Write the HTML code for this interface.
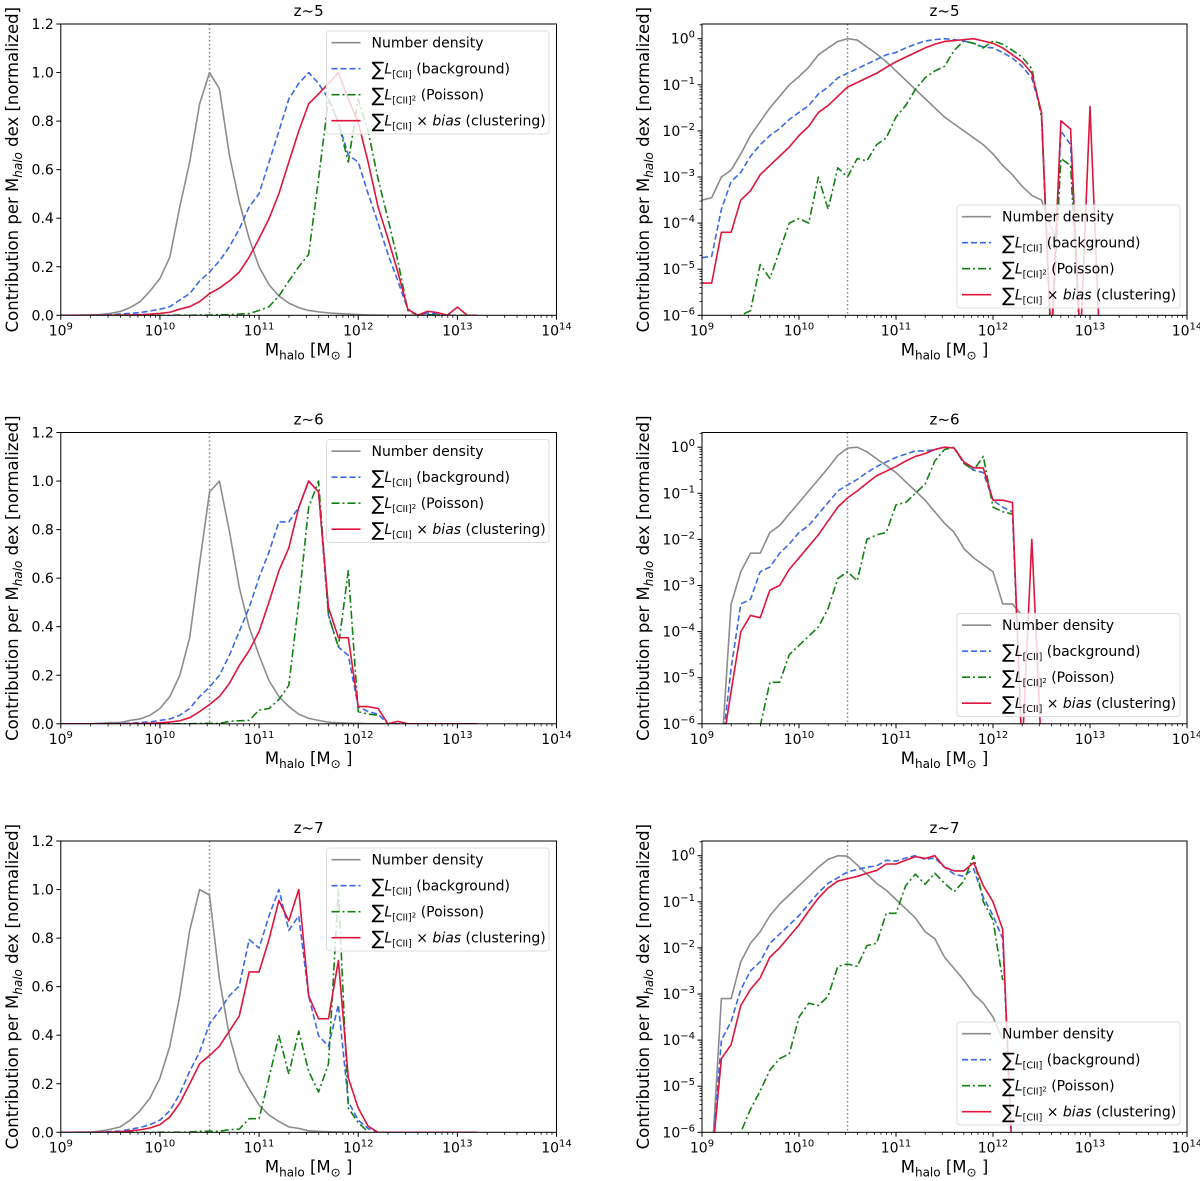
<!DOCTYPE html>
<html><head><meta charset="utf-8"><style>
body{margin:0;background:#fff}
svg{display:block;font-family:"DejaVu Sans","Liberation Sans",sans-serif}
</style></head><body>
<svg id="fig" width="1200" height="1181" viewBox="0 0 1200 1181" xmlns="http://www.w3.org/2000/svg"></svg>
<script>
const logM = [9.0,9.1,9.2,9.3,9.4,9.5,9.6,9.7,9.8,9.9,10.0,10.1,10.2,10.3,10.4,10.5,10.6,10.7,10.8,10.9,11.0,11.1,11.2,11.3,11.4,11.5,11.6,11.7,11.8,11.9,12.0,12.1,12.2,12.3,12.4,12.5,12.6,12.7,12.8,12.9,13.0,13.1,13.2];
const titles = ["z~5","z~6","z~7"];
const xTickExps = [9,10,11,12,13,14];
const linTicks = ["0.0","0.2","0.4","0.6","0.8","1.0","1.2"];
const logTickExps = [0,-1,-2,-3,-4,-5,-6];
const markerLogM = 10.5;
// log10 of normalized contributions (-9 = zero)
const nd5 = [-3.5,-3.45,-3.0,-2.85,-2.5,-2.1,-1.8,-1.5,-1.25,-1.0,-0.82,-0.62,-0.35,-0.2,-0.06,0,-0.03,-0.18,-0.33,-0.5,-0.7,-0.9,-1.1,-1.3,-1.5,-1.7,-1.85,-2.0,-2.15,-2.3,-2.5,-2.75,-2.95,-3.2,-3.4,-3.5,-4.1,-4.5,null,null,null,null,null];
const bg5 = [-4.75,-4.72,-3.7,-3.1,-2.9,-2.55,-2.3,-2.1,-1.95,-1.75,-1.6,-1.45,-1.2,-1.05,-0.85,-0.75,-0.65,-0.55,-0.45,-0.35,-0.3,-0.2,-0.12,-0.05,-0.02,0,-0.02,-0.05,-0.1,-0.18,-0.2,-0.3,-0.42,-0.6,-0.85,-1.6,-9,-2.0,-2.3,-9,-9,-9,-9];
const poi5 = [-9,-9,-9,-9,-6.0,-5.9,-4.9,-5.2,-4.6,-4.0,-3.9,-4.0,-3.0,-3.7,-2.8,-3.0,-2.6,-2.65,-2.3,-2.15,-1.7,-1.45,-1.1,-0.85,-0.7,-0.6,-0.25,-0.05,-0.1,-0.2,-0.05,-0.12,-0.25,-0.4,-0.65,-1.7,-9,-2.6,-2.75,-9,-9,-9,-9];
const clu5 = [-5.3,-5.3,-4.2,-4.2,-3.5,-3.3,-2.95,-2.75,-2.55,-2.35,-2.1,-1.9,-1.6,-1.45,-1.25,-1.05,-0.95,-0.85,-0.75,-0.62,-0.5,-0.4,-0.3,-0.2,-0.12,-0.06,-0.04,-0.02,0,-0.05,-0.1,-0.2,-0.35,-0.5,-0.75,-1.6,-9,-1.78,-1.96,-9,-1.47,-9,-9];
const nd6 = [-9,-9,-9,-3.4,-2.7,-2.3,-2.3,-1.85,-1.7,-1.45,-1.2,-0.95,-0.7,-0.45,-0.18,-0.02,0,-0.1,-0.25,-0.4,-0.55,-0.75,-0.95,-1.15,-1.4,-1.65,-1.85,-2.2,-2.4,-2.55,-2.7,-3.4,-3.4,-3.65,null,null,null,null,null,null,null,null,null];
const bg6 = [-9,-9,-9,-4.8,-3.4,-3.3,-2.7,-2.6,-2.3,-2.1,-1.85,-1.7,-1.45,-1.2,-0.95,-0.82,-0.7,-0.55,-0.42,-0.32,-0.22,-0.15,-0.08,-0.08,-0.05,0,-0.02,-0.35,-0.5,-0.55,-1.15,-1.3,-1.4,-9,-9,-9,-9,-9,-9,-9,-9,-9,-9];
const poi6 = [-9,-9,-9,-9,-9,-6.0,-6.05,-5.1,-5.1,-4.5,-4.3,-4.1,-3.9,-3.5,-2.85,-2.7,-2.9,-2.0,-1.9,-1.85,-1.25,-1.2,-1.0,-0.8,-0.3,-0.05,0,-0.35,-0.5,-0.2,-1.3,-1.4,-1.45,null,null,null,null,null,null,null,null,null,null];
const clu6 = [-9,-9,-9,-5.3,-4.0,-3.65,-3.7,-3.1,-3.0,-2.65,-2.4,-2.15,-1.9,-1.6,-1.3,-1.1,-0.95,-0.78,-0.62,-0.52,-0.42,-0.3,-0.2,-0.14,-0.05,0,-0.02,-0.32,-0.45,-0.45,-1.15,-1.15,-1.2,-9,-2.0,-9,-9,-9,-9,-9,-9,-9,-9];
const nd7 = [-9,-9,-3.1,-3.1,-2.3,-1.9,-1.65,-1.3,-1.05,-0.85,-0.65,-0.45,-0.25,-0.08,0,-0.01,-0.2,-0.4,-0.6,-0.75,-0.95,-1.15,-1.35,-1.65,-1.8,-2.2,-2.45,-2.7,-3.0,-3.2,-3.5,-4.0,null,null,null,null,null,null,null,null,null,null,null];
const bg7 = [-9,-9,-4.0,-3.6,-2.9,-2.5,-2.3,-1.9,-1.7,-1.5,-1.3,-1.05,-0.8,-0.6,-0.48,-0.35,-0.3,-0.25,-0.22,-0.1,-0.12,-0.05,0,-0.08,-0.05,-0.25,-0.4,-0.45,-0.28,-0.9,-1.3,-1.8,-9,-9,-9,-9,-9,-9,-9,-9,-9,-9,-9];
const poi7 = [-9,-9,-9,-9,-6.0,-5.5,-5.1,-4.65,-4.4,-4.3,-3.5,-3.2,-3.25,-3.05,-2.4,-2.35,-2.4,-1.95,-1.9,-1.25,-1.25,-0.65,-0.4,-0.62,-0.38,-0.6,-0.78,-0.55,0,-1.0,-1.4,-2.7,null,null,null,null,null,null,null,null,null,null,null];
const clu7 = [-9,-9,-4.4,-4.1,-3.25,-2.9,-2.65,-2.2,-2.0,-1.75,-1.5,-1.2,-0.92,-0.7,-0.55,-0.5,-0.45,-0.38,-0.32,-0.18,-0.18,-0.1,-0.02,-0.06,0,-0.25,-0.33,-0.33,-0.15,-0.65,-1.0,-1.6,-9,-9,-9,-9,-9,-9,-9,-9,-9,-9,-9];

const rows = [[nd5,bg5,poi5,clu5],[nd6,bg6,poi6,clu6],[nd7,bg7,poi7,clu7]];
const styles = [
  {c:"#8c8c8c",d:"",n:"number-density-line"},
  {c:"#3b6ae8",d:"6,3",n:"background-line"},
  {c:"#128012",d:"8,3,2,3",n:"poisson-line"},
  {c:"#e0143c",d:"",n:"clustering-line"}
];
const NS="http://www.w3.org/2000/svg";
const svg=document.getElementById('fig');
function el(tag,attrs,parent){const e=document.createElementNS(NS,tag);for(const k in attrs)e.setAttribute(k,attrs[k]);(parent||svg).appendChild(e);return e;}
const rowTops=[24,432.5,841];
const H=291.3;
let clipId=0;

function drawPanel(ri,isLog){
  const top=rowTops[ri],bot=top+H;
  const x0=isLog?702:60.8, x1=isLog?1187:556.5;
  const X=m=>x0+(m-9)/5*(x1-x0);
  const dec=46.1;
  const Y=isLog? (v=>bot-(v+6)*dec) : (v=>bot-Math.pow(10,v)/1.2*H);
  const g=el('g',{});
  
  
  const cid='clip'+(clipId++);
  const cp=el('clipPath',{id:cid},g);el('rect',{x:x0,y:top,width:x1-x0,height:H},cp);
  const t=el('text',{x:(x0+x1)/2,y:top-8,'text-anchor':'middle','font-size':15,fill:'#000'},g);t.textContent=titles[ri];
  
  xTickExps.forEach(e=>{
    const x=X(e);el('line',{x1:x,x2:x,y1:bot,y2:bot+4.5,stroke:'#000','stroke-width':1},g);
    const tx=el('text',{x:x,y:bot+20,'text-anchor':'middle','font-size':14},g);
    
    const a=el('tspan',{},tx);a.textContent='10';const b=el('tspan',{dy:-6,'font-size':10},tx);b.textContent=String(e);
    if(e<14)for(let k=2;k<10;k++){const xm=X(e+Math.log10(k));el('line',{x1:xm,x2:xm,y1:bot,y2:bot+2.5,stroke:'#000','stroke-width':0.8},g);}
  });
  if(!isLog){
    linTicks.forEach((s,i)=>{const y=bot-i/6*H;el('line',{x1:x0-4.5,x2:x0,y1:y,y2:y,stroke:'#000'},g);
      const ty=el('text',{x:x0-7,y:y+5,'text-anchor':'end','font-size':14},g);ty.textContent=s;
      });
  } else {
    logTickExps.forEach(e=>{const y=Y(e);el('line',{x1:x0-4.5,x2:x0,y1:y,y2:y,stroke:'#000'},g);
      const ty=el('text',{x:x0-7,y:y+5,'text-anchor':'end','font-size':14},g);
      
      const a=el('tspan',{},ty);a.textContent='10';const b=el('tspan',{dy:-6,'font-size':10},ty);b.textContent=e===0?'0':'\u2212'+(-e);
      for(let k=2;k<10;k++){const ym=Y(e+Math.log10(k));if(ym>=top)el('line',{x1:x0-2.5,x2:x0,y1:ym,y2:ym,stroke:'#000','stroke-width':0.8},g);}
    });
  }
  const yl=el('text',{transform:`translate(${x0-(isLog?53:43)},${(top+bot)/2}) rotate(-90)`,'text-anchor':'middle','font-size':16.5},g);
  
  let s=el('tspan',{},yl);s.textContent='Contribution per M';s=el('tspan',{'font-style':'italic','font-size':12,dy:4},yl);s.textContent='halo';
  s=el('tspan',{dy:-4},yl);s.textContent=' dex [normalized]';
  const xl=el('text',{x:(x0+x1)/2,y:bot+40,'text-anchor':'middle','font-size':16.5},g);
  
  s=el('tspan',{},xl);s.textContent='M';s=el('tspan',{'font-size':12,dy:4},xl);s.textContent='halo';
  s=el('tspan',{dy:-4},xl);s.textContent=' [M';s=el('tspan',{'font-size':12,dy:4},xl);s.textContent='\u2299';s=el('tspan',{dy:-4},xl);s.textContent=' ]';
  const pg=el('g',{'clip-path':`url(#${cid})`},g);
  const mk=el('line',{x1:X(markerLogM),x2:X(markerLogM),y1:top,y2:bot,stroke:'#888','stroke-width':1.5,'stroke-dasharray':'1.5,2.5'},pg);
  
  rows[ri].forEach((arr,si)=>{
    let d='',pen=false;
    arr.forEach((v,i)=>{
      if(v===null||v===undefined){pen=false;return;}
      let yy=Y(v); if(isLog&&v<-8)yy=bot+30;
      d+=(pen?'L':'M')+X(logM[i]).toFixed(2)+' '+yy.toFixed(2)+' ';pen=true;
    });
    const st=styles[si];
    const p=el('path',{d:d,fill:'none',stroke:st.c,'stroke-width':1.6,'stroke-dasharray':st.d,'stroke-linejoin':'round'},pg);
    
  });
  el('rect',{x:x0,y:top,width:x1-x0,height:H,fill:'none',stroke:'#000','stroke-width':1},g);
  const lx=isLog?957:326.5, lw=isLog?223:222.5, ly=isLog?top+181:top+7;
  const lg=el('g',{},g);
  el('rect',{x:lx,y:ly,width:lw,height:103,rx:3,fill:'#fff','fill-opacity':0.8,stroke:'#ddd'},lg);
  styles.forEach((st,i)=>{
    const yy=ly+11.7+i*26;
    el('line',{x1:lx+5,x2:lx+34,y1:yy,y2:yy,stroke:st.c,'stroke-width':1.6,'stroke-dasharray':st.d},lg);
    const tx=el('text',{x:lx+45,y:yy+5,'font-size':14},lg);
    
    if(i===0){tx.textContent='Number density';return;}
    let a=el('tspan',{'font-size':19,dy:2},tx);a.textContent='\u2211';
    a=el('tspan',{'font-style':'italic',dy:-2},tx);a.textContent='L';
    a=el('tspan',{'font-size':9.5,dy:4},tx);a.textContent='[CII]';
    if(i===2){a=el('tspan',{'font-size':7,dy:-3},tx);a.textContent='2';a=el('tspan',{dy:-1},tx);a.textContent=' (Poisson)';}
    else if(i===1){a=el('tspan',{dy:-4},tx);a.textContent=' (background)';}
    else{a=el('tspan',{dy:-4},tx);a.textContent=' \u00d7 ';a=el('tspan',{'font-style':'italic'},tx);a.textContent='bias';a=el('tspan',{},tx);a.textContent=' (clustering)';}
  });
}
for(let r=0;r<3;r++){drawPanel(r,false);drawPanel(r,true);}
</script>
</body></html>
